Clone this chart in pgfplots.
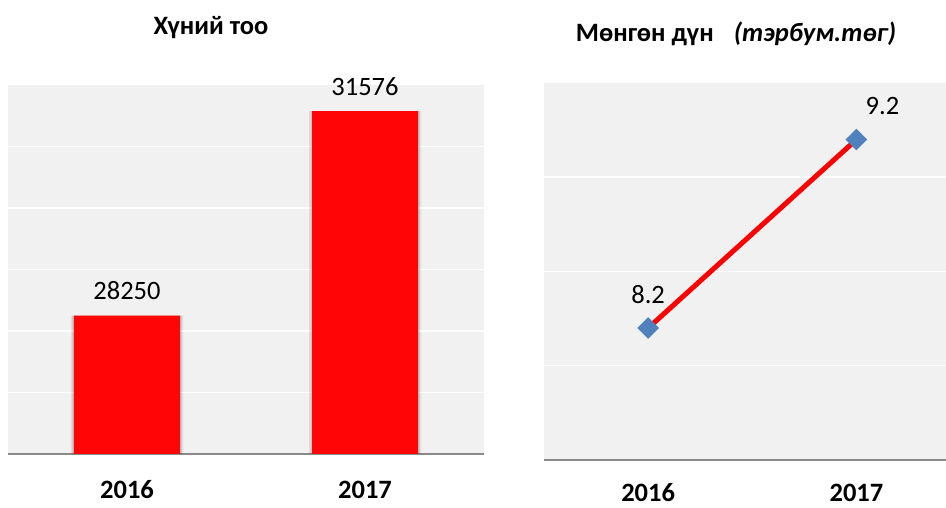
\documentclass[border=0pt]{standalone}
\usepackage{pgfplots}
\pgfplotsset{compat=1.18}
\usepackage{fontspec}
\setmainfont{Carlito}
\definecolor{bg}{HTML}{F1F1F1}
\definecolor{barred}{HTML}{FF0505}
\definecolor{blueM}{HTML}{4F81BD}
\definecolor{axgray}{HTML}{8A8A8A}
\newcommand{\fs}{\fontsize{26.5}{30}\selectfont}
\begin{document}
\begin{tikzpicture}[x=1pt,y=1pt]
\useasboundingbox (0,0) rectangle (946,508);
% ---------- left: bars ----------
\begin{axis}[
  at={(8pt,54pt)}, anchor=south west,
  scale only axis, width=476pt, height=369pt,
  xmin=-0.5, xmax=1.5, ymin=26000, ymax=32000,
  scaled y ticks=false,
  axis background/.style={fill=bg},
  axis x line*=bottom, axis y line*=left,
  x axis line style={draw=axgray, line width=1.6pt},
  y axis line style={draw=none},
  xtick={0,1}, xticklabels={\textbf{2016},\textbf{2017}},
  xticklabel style={anchor=base, yshift=-45pt, inner sep=0pt, font=\fs},
  ytick={27000,28000,29000,30000,31000}, yticklabels={},
  major tick length=0pt,
  ymajorgrids, grid style={white, line width=1.5pt},
  clip=true,
]
\addplot[ybar, bar width=112pt, bar shift=0pt, fill=black, draw=none, opacity=0.08]
  coordinates {(0,28250) (1,31576)};
\addplot[ybar, bar width=109pt, bar shift=0pt, fill=black, draw=none, opacity=0.12]
  coordinates {(0,28250) (1,31576)};
\addplot[ybar, bar width=106pt, bar shift=0pt, fill=barred, draw=none,
  point meta=explicit symbolic, nodes near coords,
  every node near coord/.append style={anchor=base, yshift=16pt, font=\fs, text=black}]
  coordinates {(0,28250)[28250] (1,31576)[31576]};
\end{axis}
\node[anchor=base, font=\bfseries\fs] at (211,473) {Хүний тоо};
% ---------- right: line ----------
\begin{axis}[
  at={(544pt,48pt)}, anchor=south west,
  scale only axis, width=402pt, height=377pt,
  xmin=-0.5, xmax=1.43, ymin=7.5, ymax=9.5,
  scaled y ticks=false,
  axis background/.style={fill=bg},
  axis x line*=bottom, axis y line*=left,
  x axis line style={draw=axgray, line width=1.6pt},
  y axis line style={draw=none},
  xtick={0,1}, xticklabels={\textbf{2016},\textbf{2017}},
  xticklabel style={anchor=base, yshift=-42pt, inner sep=0pt, font=\fs},
  ytick={8,8.5,9}, yticklabels={},
  major tick length=0pt,
  ymajorgrids, grid style={white, line width=1.5pt},
  clip=false,
]
\addplot[color=red, line width=5pt, mark=square*, mark size=7.4pt,
  mark options={solid, fill=blueM, draw=blueM, line width=0.4pt, rotate=45}]
  coordinates {(0,8.2) (1,9.2)};
\node[anchor=base, font=\fs, yshift=24.5pt] at (axis cs:0,8.2) {8.2};
\node[anchor=base, font=\fs, xshift=26pt, yshift=25.5pt] at (axis cs:1,9.2) {9.2};
\end{axis}
\node[anchor=base, font=\fs] at (736,466) {\textbf{Мөнгөн дүн}\hspace{20pt}\textbf{\textit{(тэрбум.төг)}}};
\end{tikzpicture}
\end{document}
